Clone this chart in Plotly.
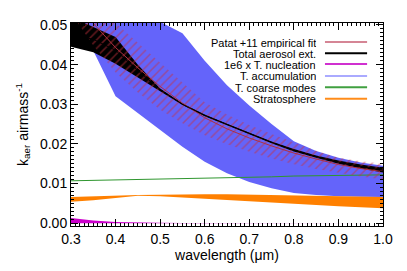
import plotly.graph_objects as go

# ---------------- data ----------------
wavelength = [0.30, 0.35, 0.40, 0.45, 0.50, 0.55, 0.60, 0.65, 0.70, 0.75, 0.80, 0.85, 0.90, 0.95, 1.00]

# Patat +11 empirical fit (central line and band limits)
patat_fit = [0.0565, 0.0504, 0.0443, 0.0392, 0.0345, 0.0303, 0.0266, 0.0238, 0.0215, 0.0195, 0.0177, 0.0162, 0.0148, 0.0138, 0.0130]
patat_hi = [0.0600, 0.0560, 0.0505, 0.0455, 0.0405, 0.0355, 0.0305, 0.0274, 0.0248, 0.0225, 0.0204, 0.0183, 0.0165, 0.0156, 0.0150]
patat_lo = [0.0530, 0.0448, 0.0380, 0.0330, 0.0286, 0.0252, 0.0222, 0.0199, 0.0180, 0.0163, 0.0149, 0.0137, 0.0127, 0.0118, 0.0110]

# Total aerosol extinction (line and band)
total_ext = [0.0475, 0.0464, 0.0436, 0.0385, 0.0337, 0.0300, 0.0272, 0.0249, 0.0226, 0.0204, 0.0184, 0.0168, 0.0154, 0.0143, 0.0134]
total_hi = [0.0520, 0.0496, 0.0470, 0.0400, 0.0340, 0.0302, 0.0274, 0.0251, 0.0228, 0.0206, 0.0187, 0.0171, 0.0158, 0.0148, 0.0140]
total_lo = [0.0445, 0.0431, 0.0402, 0.0368, 0.0333, 0.0298, 0.0270, 0.0247, 0.0224, 0.0202, 0.0181, 0.0165, 0.0150, 0.0138, 0.0128]

# 1e6 x T. nucleation
nucl_hi = [0.0013, 0.0007, 0.0003, 0.00015, 0.0001, 0.00007, 0.00005, 0.00005, 0.00005, 0.00005, 0.00005, 0.00005, 0.00005, 0.00005, 0.00005]
nucl_lo = [0.0, 0.0, 0.0, 0.0, 0.0, 0.0, 0.0, 0.0, 0.0, 0.0, 0.0, 0.0, 0.0, 0.0, 0.0]

# T. accumulation
accu_hi = [0.070, 0.066, 0.061, 0.055, 0.0508, 0.0479, 0.0410, 0.0348, 0.0297, 0.0250, 0.0207, 0.0182, 0.0165, 0.0153, 0.0145]
accu_lo = [0.0480, 0.0435, 0.0320, 0.0278, 0.0235, 0.0193, 0.0155, 0.0126, 0.0104, 0.0088, 0.0076, 0.0071, 0.0068, 0.0067, 0.0066]

# T. coarse modes
coarse = [0.0107, 0.0108, 0.0109, 0.0110, 0.0111, 0.0112, 0.0113, 0.0115, 0.0116, 0.0117, 0.0119, 0.0120, 0.0121, 0.0121, 0.0122]

# Stratosphere
strat_hi = [0.0066, 0.0068, 0.0070, 0.0071, 0.0072, 0.0073, 0.0073, 0.0073, 0.0072, 0.0071, 0.0070, 0.0069, 0.0068, 0.0067, 0.0066]
strat_lo = [0.0054, 0.0058, 0.0063, 0.0069, 0.0068, 0.0064, 0.0061, 0.0058, 0.0055, 0.0052, 0.0049, 0.0046, 0.0043, 0.0040, 0.0038]

legend_labels = ["Patat +11 empirical fit", "Total aerosol ext.", "1e6 x T. nucleation",
                 "T. accumulation", "T. coarse modes", "Stratosphere"]
legend_colors = ["#d58595", "#000000", "#d030d0", "#aaaaff", "#40a040", "#ff8c1a"]

x_ticks = [0.3, 0.4, 0.5, 0.6, 0.7, 0.8, 0.9, 1.0]
y_ticks = [0.00, 0.01, 0.02, 0.03, 0.04, 0.05]

FONT = "Liberation Sans, Arial, Helvetica, sans-serif"


def band(lo, hi, **kw):
    return go.Scatter(x=wavelength + wavelength[::-1], y=hi + lo[::-1], fill="toself",
                      mode="lines", line=dict(width=0), hoverinfo="skip", showlegend=False, **kw)


fig = go.Figure()
fig.add_trace(band(accu_lo, accu_hi, fillcolor="#6464fa"))
fig.add_trace(band(strat_lo, strat_hi, fillcolor="#ff8000"))
fig.add_trace(band(nucl_lo, nucl_hi, fillcolor="#cc00cc"))
fig.add_trace(go.Scatter(x=wavelength, y=coarse, mode="lines", line=dict(color="#2f962f", width=1),
                         showlegend=False))
fig.add_trace(band(total_lo, total_hi, fillcolor="#000000"))
fig.add_trace(band(patat_lo, patat_hi, fillcolor="rgba(0,0,0,0)",
                   fillpattern=dict(shape="/", fgcolor="#c8303c", bgcolor="rgba(0,0,0,0)",
                                    size=6, solidity=0.25)))
fig.add_trace(go.Scatter(x=wavelength, y=patat_fit, mode="lines", line=dict(color="#b03040", width=1),
                         showlegend=False))
fig.add_trace(go.Scatter(x=wavelength, y=total_ext, mode="lines", line=dict(color="#000000", width=1),
                         showlegend=False))

# custom legend: right-aligned text with line samples to the right
row_y = [0.906, 0.851, 0.798, 0.739, 0.683, 0.627]
for lab, col, yy in zip(legend_labels, legend_colors, row_y):
    fig.add_annotation(x=0.788, y=yy, xref="paper", yref="paper", text=lab, showarrow=False,
                       xanchor="right", yanchor="middle", height=11, borderpad=0,
                       font=dict(size=11, color="black", family=FONT))
    fig.add_shape(type="line", xref="paper", yref="paper", x0=0.814, x1=0.949, y0=yy, y1=yy,
                  line=dict(color=col, width=2))

axis_common = dict(showline=True, linecolor="black", linewidth=1, mirror="ticks", ticks="inside",
                   tickcolor="black", ticklen=7, showgrid=False, zeroline=False, automargin=False,
                   tickfont=dict(size=14, color="black", family=FONT))

fig.update_xaxes(range=[0.3, 1.0], tickvals=x_ticks, tickformat=".1f",
                 minor=dict(dtick=0.01, ticks="inside", ticklen=3, tickcolor="black", showgrid=False),
                 title=dict(text="wavelength (\u03bcm)", font=dict(size=14, color="black", family=FONT),
                            standoff=2),
                 **axis_common)
fig.update_yaxes(range=[-0.0007, 0.0505], tickvals=y_ticks, tickformat=".2f",
                 minor=dict(dtick=0.001, ticks="inside", ticklen=3, tickcolor="black", showgrid=False),
                 title=dict(text="k<sub>aer</sub> airmass<sup>-1</sup>",
                            font=dict(size=14, color="black", family=FONT), standoff=8),
                 **axis_common)

# the page body adds an 8px margin, so the figure is sized to sit inside the 407x271 window
fig.update_layout(width=391, height=255, margin=dict(l=63, r=16, t=15, b=37, autoexpand=False),
                  paper_bgcolor="white", plot_bgcolor="white", showlegend=False,
                  font=dict(family=FONT, color="black"))

fig.write_html("out.html")
